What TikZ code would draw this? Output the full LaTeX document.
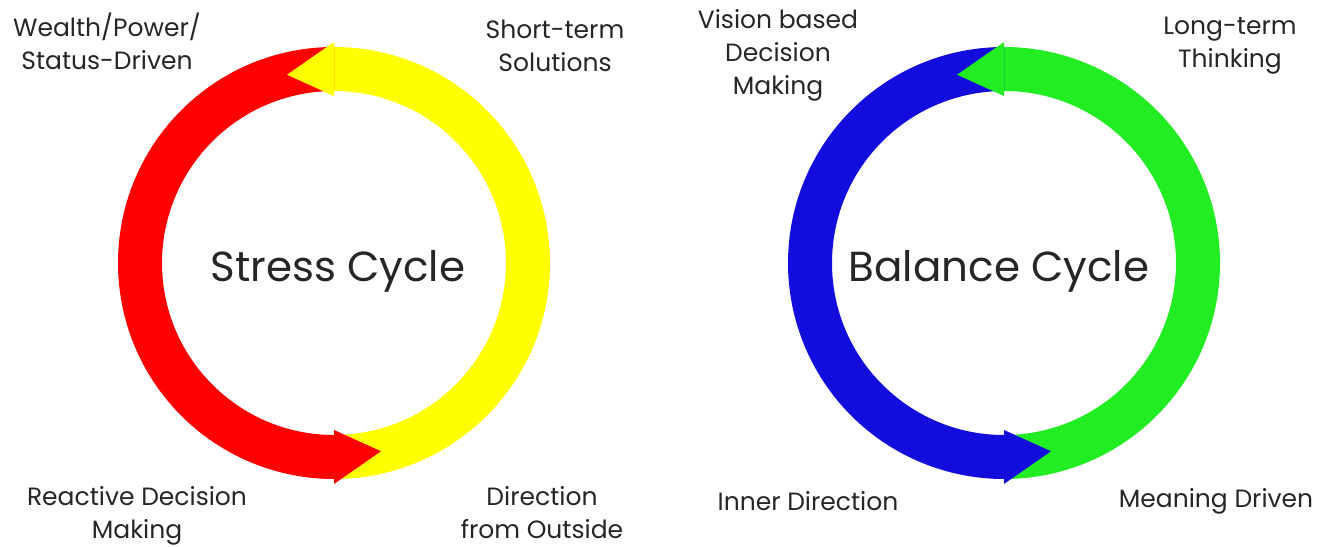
\documentclass[tikz,border=0pt]{standalone}
\usepackage{fontspec}
\setmainfont{Poppins}
\usepackage{xcolor}
\definecolor{ringred}{RGB}{255,0,0}
\definecolor{ringyellow}{RGB}{255,255,0}
\definecolor{ringblue}{RGB}{18,12,220}
\definecolor{ringgreen}{RGB}{34,236,34}
\definecolor{txtgray}{RGB}{38,38,38}
\usetikzlibrary{positioning}

% one cycle: centre, left colour, right colour
\newcommand{\cyclering}[3]{%
  \fill[#3] ([shift={(-90:216)}]#1) arc[start angle=-90,end angle=91,radius=216]
    -- ([shift={(91:172)}]#1) arc[start angle=91,end angle=-90,radius=172] -- cycle;
  \fill[#2] ([shift={(90:216)}]#1) arc[start angle=90,end angle=271,radius=216]
    -- ([shift={(271:172)}]#1) arc[start angle=271,end angle=90,radius=172] -- cycle;
  \fill[#2] ([shift={(270:221)}]#1) -- ([shift={(284:194)}]#1) -- ([shift={(270:167)}]#1) -- cycle;
  \fill[#3] ([shift={(90:221)}]#1) -- ([shift={(104:194)}]#1) -- ([shift={(90:167)}]#1) -- cycle;
}

\begin{document}
\begin{tikzpicture}
	[x=1pt,y=1pt,
	 lbl/.style={align=center,text=txtgray,font=\fontsize{25}{33}\selectfont,inner sep=0pt},
	 title/.style={text=txtgray,font=\fontsize{42}{46}\selectfont,inner sep=0pt}]

	\useasboundingbox (0,0) rectangle (1332,546);
	\coordinate (stressc) at (334,283);
	\coordinate (balancec) at (1004,283);

	%rings
	\cyclering{stressc}{ringred}{ringyellow}
	\cyclering{balancec}{ringblue}{ringgreen}

	\node[title] (stress) at (338,275) {Stress Cycle};
	\node[title] (balance) at (999,275) {Balance Cycle};

	\node[lbl] (wealth) at (107,505) {Wealth/Power/\\Status-Driven};
	\node[lbl] (short) at (555,500) {Short-term\\Solutions};
	\node[lbl] (reactive) at (137,30) {Reactive Decision\\Making};
	\node[lbl] (outside) at (542,33) {Direction\\from Outside};

	\node[lbl] (vision) at (778,491) {Vision based\\Decision\\Making};
	\node[lbl] (long) at (1230,500) {Long-term\\Thinking};
	\node[lbl] (inner) at (808,45) {Inner Direction};
	\node[lbl] (meaning) at (1216,45) {Meaning Driven};

\end{tikzpicture}
\end{document}
